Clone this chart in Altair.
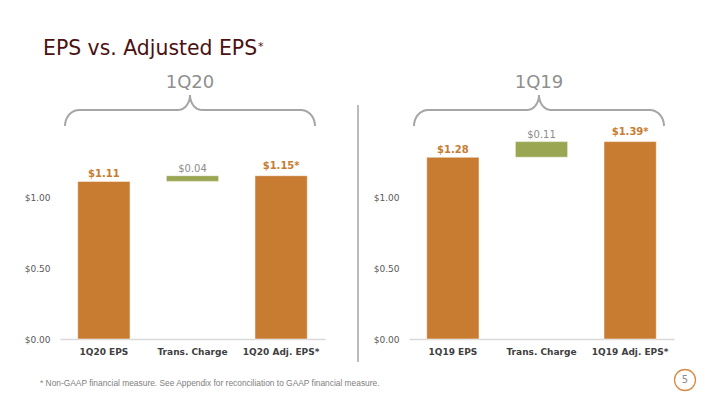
import math
import altair as alt
import pandas as pd

# ---------------- data ----------------
q20_cats = ["1Q20 EPS", "Trans. Charge", "1Q20 Adj. EPS*"]
q20_vals = [1.11, 0.04, 1.15]
q20_labels = ["$1.11", "$0.04", "$1.15*"]

q19_cats = ["1Q19 EPS", "Trans. Charge", "1Q19 Adj. EPS*"]
q19_vals = [1.28, 0.11, 1.39]
q19_labels = ["$1.28", "$0.11", "$1.39*"]

kinds = ["eps", "charge", "adj"]
y_ticks = [0, 0.5, 1.0]

title_text = "EPS vs. Adjusted EPS"
footnote = "* Non-GAAP financial measure. See Appendix for reconciliation to GAAP financial measure."
page_no = "5"

# ---------------- style ----------------
ORANGE = "#C77C31"
GREEN = "#9BA653"
GRAY_LBL = "#8C8C8C"
BRACE = "#A6A6A6"
FONT = "DejaVu Sans"
W, H = 265, 213


def brace_points():
    """Shape of a horizontal curly brace, in pixel-like units (width 250, height 31)."""
    bw, h1, h2, rx, rx2 = 250, 16, 31, 14, 12
    pts = []
    n = 10
    for k in range(n + 1):
        t = k / n * math.pi / 2
        pts.append((rx - rx * math.cos(t), h1 * math.sin(t)))
    cx = bw / 2 - rx2
    for k in range(n + 1):
        t = k / n * math.pi / 2
        pts.append((cx + rx2 * math.sin(t), h2 - (h2 - h1) * math.cos(t)))
    right = [(bw - x, y) for (x, y) in reversed(pts)]
    allp = pts + right
    return pd.DataFrame({"bx": [p[0] for p in allp], "by": [p[1] for p in allp],
                         "i": list(range(len(allp)))})


def panel(cats, vals, labels, name, extras):
    df = pd.DataFrame({
        "cat": cats,
        "start": [0, vals[0], 0],
        "end": [vals[0], vals[0] + vals[1], vals[2]],
        "label": labels,
        "kind": kinds,
    })
    x = alt.X("cat:N", sort=cats, title=None,
              scale=alt.Scale(paddingInner=0.41, paddingOuter=0.2),
              axis=alt.Axis(labelAngle=0, ticks=False, domainColor="#D9D9D9",
                            domainWidth=1.5, labelFont=FONT, labelFontSize=9,
                            labelFontWeight="bold", labelColor="#404040",
                            labelPadding=8))
    y = alt.Y("start:Q", title=None,
              scale=alt.Scale(domain=[0, 1.5], nice=False, zero=True),
              axis=alt.Axis(values=y_ticks, format="$.2f", ticks=False, domain=False,
                            grid=False, labelFont=FONT, labelFontSize=9,
                            labelColor="#595959", labelPadding=10))
    base = alt.Chart(df)
    bars = base.mark_bar(stroke="white", strokeWidth=0.5).encode(
        x=x, y=y, y2="end:Q",
        color=alt.Color("kind:N", scale=alt.Scale(domain=kinds, range=[ORANGE, GREEN, ORANGE]),
                        legend=None),
    )
    tx = alt.X("cat:N", sort=cats)
    ty = alt.Y("end:Q")
    lbl_eps = base.mark_text(font=FONT, fontSize=10, fontWeight="bold", color=ORANGE,
                             baseline="alphabetic", dy=-4).encode(
        x=tx, y=ty, text="label:N"
    ).transform_filter(alt.datum.kind == "eps")
    lbl_adj = base.mark_text(font=FONT, fontSize=10, fontWeight="bold", color=ORANGE,
                             baseline="alphabetic", dy=-7).encode(
        x=tx, y=ty, text="label:N"
    ).transform_filter(alt.datum.kind == "adj")
    lbl_chg = base.mark_text(font=FONT, fontSize=10, color=GRAY_LBL,
                             baseline="alphabetic", dy=-4).encode(
        x=tx, y=ty, text="label:N"
    ).transform_filter(alt.datum.kind == "charge")

    main = alt.layer(bars, lbl_eps, lbl_adj, lbl_chg)

    brace = alt.Chart(brace_points()).mark_line(color=BRACE, strokeWidth=2).encode(
        x=alt.X("bx:Q", scale=alt.Scale(domain=[0, 250], range=[5, 255]), axis=None),
        y=alt.Y("by:Q", scale=alt.Scale(domain=[0, 31], range=[0, -31]), axis=None),
        order="i:Q",
    )
    pname = alt.Chart(pd.DataFrame({"t": [name]})).mark_text(
        font=FONT, fontSize=18, color="#8F8F8F", align="center", baseline="alphabetic"
    ).encode(text="t:N", x=alt.value(130), y=alt.value(-38))

    layers = [main, pname] + extras + [brace]
    return alt.layer(*layers).resolve_scale(x="independent", y="independent").properties(
        width=W, height=H)


left_extras = [
    # bounds anchor (invisible) – fixes the top-left corner of the page
    alt.Chart(pd.DataFrame({"t": ["a"]})).mark_rule(opacity=0).encode(
        x=alt.value(-52), x2=alt.value(-51), y=alt.value(-118)),
    alt.Chart(pd.DataFrame({"t": [title_text]})).mark_text(
        font=FONT, fontSize=20.4, color="#4A1111", align="left", baseline="alphabetic"
    ).encode(text="t:N", x=alt.value(-17), y=alt.value(-71)),
    alt.Chart(pd.DataFrame({"t": ["*"]})).mark_text(
        font=FONT, fontSize=11, color="#4A1111", align="left", baseline="alphabetic"
    ).encode(text="t:N", x=alt.value(198), y=alt.value(-76)),
    alt.Chart(pd.DataFrame({"t": ["d"]})).mark_rule(color="#A6A6A6", strokeWidth=1.5).encode(
        x=alt.value(298), y=alt.value(-21), y2=alt.value(236)),
    alt.Chart(pd.DataFrame({"t": [footnote]})).mark_text(
        font="Liberation Sans", fontSize=8.4, color="#808080", align="left", baseline="middle"
    ).encode(text="t:N", x=alt.value(-20), y=alt.value(257)),
]

right_extras = [
    alt.Chart(pd.DataFrame({"t": [page_no]})).mark_point(
        shape="circle", size=440, filled=False, color="#D38D47", strokeWidth=1.3, opacity=1
    ).encode(x=alt.value(276), y=alt.value(254)),
    alt.Chart(pd.DataFrame({"t": [page_no]})).mark_text(
        font=FONT, fontSize=10, color="#8C8C8C", align="center", baseline="middle"
    ).encode(text="t:N", x=alt.value(276), y=alt.value(254)),
]

left = panel(q20_cats, q20_vals, q20_labels, "1Q20", left_extras)
right = panel(q19_cats, q19_vals, q19_labels, "1Q19", right_extras)

chart = alt.hconcat(left, right, spacing=84, bounds="flush").properties(
    padding=0, background="white"
).configure_view(stroke=None)

chart.save("out.html", embed_options={"renderer": "svg", "actions": False})
